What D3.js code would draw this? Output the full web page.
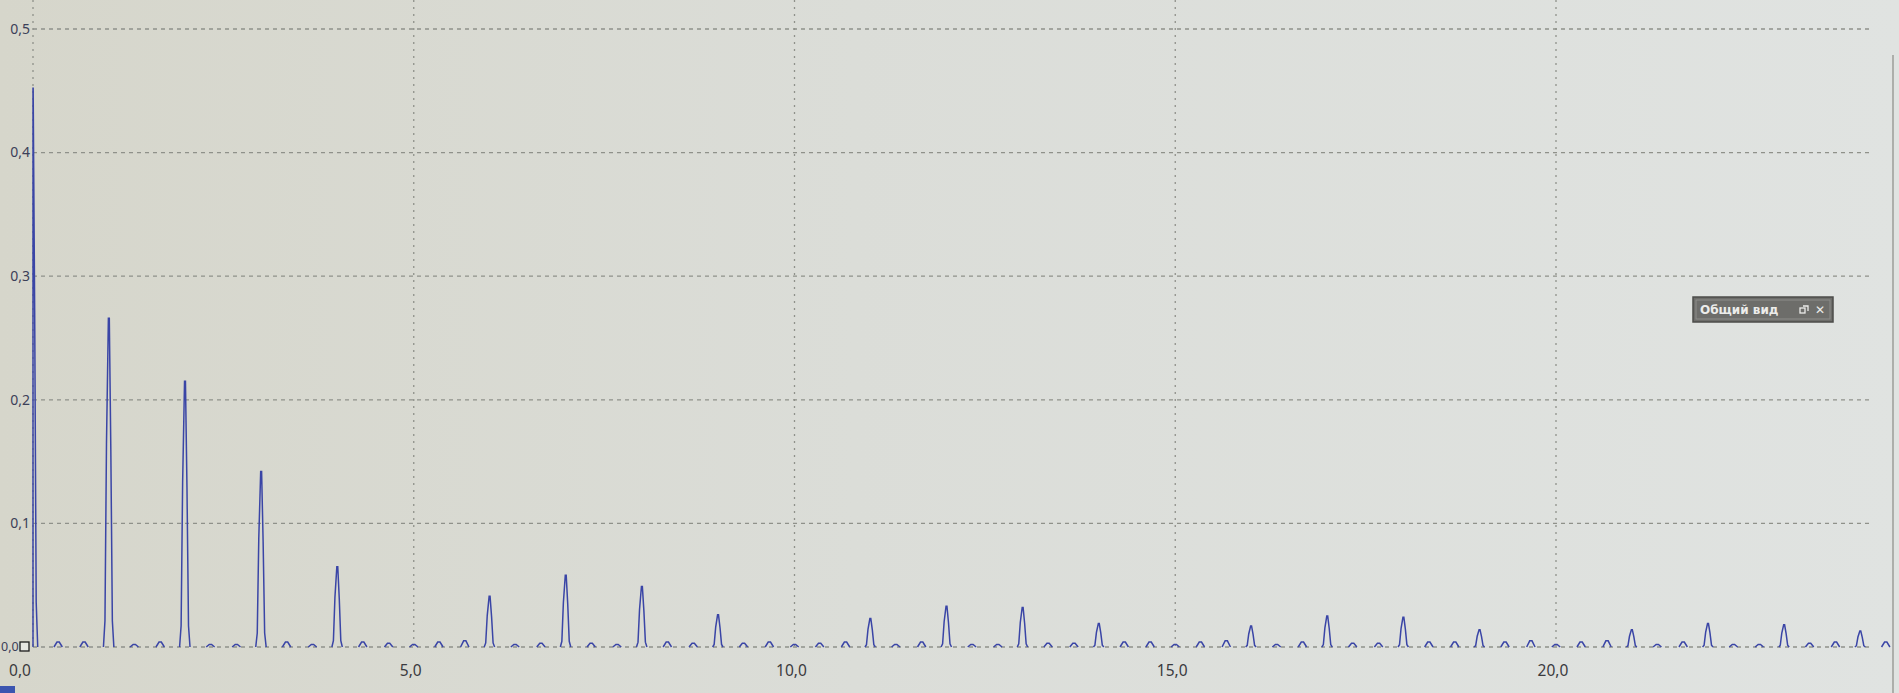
<!DOCTYPE html>
<html><head><meta charset="utf-8">
<script src="https://cdn.jsdelivr.net/npm/d3@7"></script>
<style>html,body{margin:0;padding:0;overflow:hidden;background:#dcdedb}</style>
</head><body><svg id="c" width="1899" height="693"></svg>
<script>
// ---- data ----
const harmonicFreq = [0,1,2,3,4,6,7,8,9,11,12,13,14,16,17,18,19,21,22,23,24];
const harmonicAmp  = [0.452,0.266,0.215,0.142,0.065,0.041,0.058,0.049,0.026,0.023,0.033,0.032,0.019,0.017,0.025,0.024,0.014,0.014,0.019,0.018,0.013];
const bumpFreq = [0.33,0.67,1.33,1.67,2.33,2.67,3.33,3.67,4.33,4.67,5,5.33,5.67,6.33,6.67,7.33,7.67,8.33,8.67,9.33,9.67,10,10.33,10.67,11.33,11.67,12.33,12.67,13.33,13.67,14.33,14.67,15,15.33,15.67,16.33,16.67,17.33,17.67,18.33,18.67,19.33,19.67,20,20.33,20.67,21.33,21.67,22.33,22.67,23.33,23.67,24.33];
const bumpAmp  = [0.004,0.004,0.002,0.004,0.002,0.002,0.004,0.002,0.004,0.003,0.002,0.004,0.005,0.002,0.003,0.003,0.002,0.004,0.003,0.003,0.004,0.002,0.003,0.004,0.002,0.004,0.002,0.002,0.003,0.003,0.004,0.004,0.002,0.004,0.005,0.002,0.004,0.003,0.003,0.004,0.004,0.004,0.005,0.002,0.004,0.005,0.002,0.004,0.002,0.002,0.003,0.004,0.004];
const yTickValues = [0.1,0.2,0.3,0.4,0.5];
const yTickLabels = ["0,1","0,2","0,3","0,4","0,5"];
const xTickValues = [0,5,10,15,20];
const xTickLabels = ["0,0","5,0","10,0","15,0","20,0"];

// ---- layout ----
const svg = d3.select("#c");
const W = 1899, H = 693;
const x = d3.scaleLinear().domain([0, 24.4]).range([33, 33 + 24.4 * 76.15]);
const y = d3.scaleLinear().domain([0, 0.5]).range([647, 29]);
const gridRight = 1872;

const defs = svg.append("defs");
const bg = defs.append("linearGradient").attr("id","bg").attr("x1","0").attr("x2","1").attr("y1","0").attr("y2","0");
bg.append("stop").attr("offset","0").attr("stop-color","#d6d6cb");
bg.append("stop").attr("offset","0.45").attr("stop-color","#dbddd8");
bg.append("stop").attr("offset","1").attr("stop-color","#e0e3e1");
svg.append("rect").attr("width",W).attr("height",H).attr("fill","url(#bg)");

// right edge frame
svg.append("line").attr("x1",1893).attr("x2",1893).attr("y1",55).attr("y2",H)
  .attr("stroke","#8a8b86").attr("stroke-width",1.2);

const gridColor = "#8f918a";
// horizontal grid
svg.append("g").selectAll("line").data([0].concat(yTickValues)).join("line")
  .attr("x1", x(0)).attr("x2", gridRight)
  .attr("y1", d => y(d)).attr("y2", d => y(d))
  .attr("stroke", gridColor).attr("stroke-width",1.3).attr("stroke-dasharray","4,4");
// vertical grid
svg.append("g").selectAll("line").data(xTickValues).join("line")
  .attr("x1", d => x(d)).attr("x2", d => x(d))
  .attr("y1", 0).attr("y2", y(0))
  .attr("stroke", gridColor).attr("stroke-width",1.3).attr("stroke-dasharray","2,5");

// spectrum line (separate peak/bump polylines through the scales)
const peakDx = [-0.075,-0.055,-0.035,-0.01,0.002,0.022,0.042,0.062];
const peakK  = [0,0.08,0.62,1,1,0.6,0.08,0];
const bumpDx = [-0.055,-0.015,0.015,0.055];
const bumpK  = [0,1,1,0];
const segs = [];
harmonicFreq.forEach((f,i) => segs.push(peakDx.map((dx,j) => [Math.max(0,f+dx), harmonicAmp[i]*peakK[j]])));
bumpFreq.forEach((f,i) => segs.push(bumpDx.map((dx,j) => [f+dx, bumpAmp[i]*bumpK[j]])));
const line = d3.line().x(d => x(d[0])).y(d => y(d[1]));
svg.append("g").selectAll("path").data(segs).join("path")
  .attr("d", line).attr("fill","none")
  .attr("stroke","#3a45a6").attr("stroke-width",1.5).attr("stroke-linejoin","miter").attr("stroke-miterlimit",3);

// y labels
svg.append("g").selectAll("text").data(yTickValues).join("text")
  .attr("x", x(0) - 3).attr("y", d => y(d) + 1)
  .attr("text-anchor","end").attr("dominant-baseline","middle")
  .attr("font-family","'Noto Sans', 'DejaVu Sans', sans-serif").attr("font-size",14)
  .attr("fill","#3c4058")
  .text((d,i) => yTickLabels[i]);
svg.append("text").attr("x", 1).attr("y", y(0)+1).attr("text-anchor","start").attr("dominant-baseline","middle")
  .attr("font-family","'Noto Sans', sans-serif").attr("font-size",12.5).attr("fill","#3c4058").text("0,0");
svg.append("rect").attr("x",20).attr("y",y(0)-5).attr("width",9).attr("height",9)
  .attr("fill","#e6e7e2").attr("stroke","#1d1d1d").attr("stroke-width",1.3);

// x labels
svg.append("g").selectAll("text").data(xTickValues).join("text")
  .attr("x", d => d === 0 ? 20 : x(d) - 3).attr("y", 672)
  .attr("text-anchor","middle").attr("dominant-baseline","middle")
  .attr("font-family","'Noto Sans', 'DejaVu Sans', sans-serif").attr("font-size",15.5)
  .attr("fill","#3a3a3e")
  .text((d,i) => xTickLabels[i]);

// small blue block bottom-left
svg.append("rect").attr("x",0).attr("y",686).attr("width",15).attr("height",7).attr("fill","#3c55b0");

// "Общий вид" widget
const wg = svg.append("g").attr("transform","translate(1693,297)");
wg.append("rect").attr("width",140).attr("height",25).attr("fill","#6d6d6a").attr("stroke","#4c4c4a").attr("stroke-width",1.5);
wg.append("rect").attr("x",3).attr("y",3).attr("width",134).attr("height",19).attr("fill","none").attr("stroke","#8e8e8a").attr("stroke-width",1);
wg.append("text").attr("x",7).attr("y",13.5).attr("dominant-baseline","middle")
  .attr("font-family","'DejaVu Sans', sans-serif").attr("font-weight","bold").attr("font-size",12)
  .attr("fill","#ececea").text("Общий вид");
wg.append("rect").attr("x",107).attr("y",11).attr("width",5).attr("height",5).attr("fill","none").attr("stroke","#ececea").attr("stroke-width",1.3);
wg.append("path").attr("d","M110,9 H115 V14").attr("fill","none").attr("stroke","#ececea").attr("stroke-width",1.3);
wg.append("text").attr("x",127).attr("y",13.5).attr("text-anchor","middle").attr("dominant-baseline","middle")
  .attr("font-family","'DejaVu Sans', sans-serif").attr("font-weight","bold").attr("font-size",12)
  .attr("fill","#ececea").text("✕");
</script></body></html>
